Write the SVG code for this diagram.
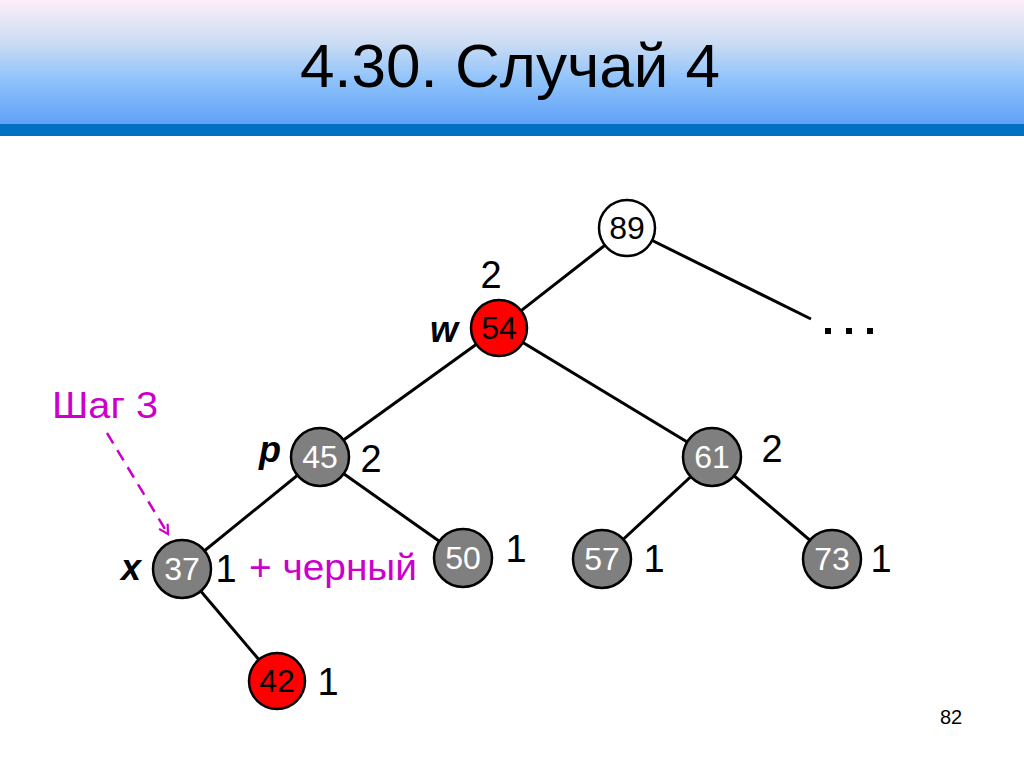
<svg xmlns="http://www.w3.org/2000/svg" width="1024" height="768" viewBox="0 0 1024 768">
<defs>
<linearGradient id="hdr" x1="0" y1="0" x2="0" y2="1">
<stop offset="0" stop-color="#fdeef9"/>
<stop offset="0.35" stop-color="#cadcf3"/>
<stop offset="0.65" stop-color="#8ec2fb"/>
<stop offset="1" stop-color="#60a1f7"/>
</linearGradient>
<marker id="arr" viewBox="0 0 12 12" refX="10" refY="6" markerWidth="12" markerHeight="12" markerUnits="userSpaceOnUse" orient="auto">
<path d="M1,1 L10,6 L1,11" fill="none" stroke="#cc00cc" stroke-width="2.2"/>
</marker>
<style>
.edge{stroke:#000;stroke-width:3;fill:none}
.nd{stroke:#000;stroke-width:2.5}
.gray{fill:#7f7f7f}
.red{fill:#ff0000}
.white{fill:#ffffff}
.num{font-family:"Liberation Sans",Arial,sans-serif;font-size:32px;text-anchor:middle}
.wt{fill:#fff}
.bk{fill:#000}
.lbl{font-family:"Liberation Sans",Arial,sans-serif;font-size:38px;fill:#000}
.var{font-family:"Liberation Sans",Arial,sans-serif;font-size:36px;font-weight:bold;font-style:italic;fill:#000}
.mag{font-family:"Liberation Sans",Arial,sans-serif;font-size:36px;fill:#cc00cc}
</style>
</defs>
<rect x="0" y="0" width="1024" height="768" fill="#ffffff"/>
<rect x="0" y="0" width="1024" height="124" fill="url(#hdr)"/>
<rect x="0" y="124" width="1024" height="12" fill="#0070c0"/>
<text x="510" y="87" font-family="Liberation Sans, Arial, sans-serif" font-size="62" text-anchor="middle" fill="#000">4.30. Случай 4</text>

<g id="connectors">
<line class="edge" x1="627" y1="228" x2="499" y2="328"/>
<line class="edge" x1="627" y1="228" x2="811" y2="319"/>
<line class="edge" x1="499" y1="328" x2="320" y2="457"/>
<line class="edge" x1="499" y1="328" x2="712" y2="457"/>
<line class="edge" x1="320" y1="457" x2="182" y2="569"/>
<line class="edge" x1="320" y1="457" x2="463" y2="558"/>
<line class="edge" x1="712" y1="457" x2="602" y2="559"/>
<line class="edge" x1="712" y1="457" x2="832" y2="559"/>
<line class="edge" x1="182" y1="569" x2="277" y2="681"/>
<line x1="107" y1="433" x2="168" y2="534" stroke="#cc00cc" stroke-width="2.5" stroke-dasharray="12,8" marker-end="url(#arr)"/>
</g>

<g id="ellipsis" fill="#000">
<rect x="825" y="328" width="6" height="6"/>
<rect x="846" y="328" width="6" height="6"/>
<rect x="867" y="328" width="6" height="6"/>
</g>

<g id="n89"><circle class="nd white" cx="627" cy="228" r="28"/><text class="num bk" x="627" y="239">89</text></g>
<g id="n54"><circle class="nd red" cx="499" cy="328" r="28"/><text class="num bk" x="499" y="339">54</text>
<text class="lbl" x="491" y="288" text-anchor="middle">2</text><text class="var" x="444" y="342" text-anchor="middle">w</text></g>
<g id="n45"><circle class="nd gray" cx="320" cy="457" r="29"/><text class="num wt" x="320" y="468">45</text>
<text class="lbl" x="371" y="472" text-anchor="middle">2</text><text class="var" x="270" y="462" text-anchor="middle">p</text></g>
<g id="n61"><circle class="nd gray" cx="712" cy="457" r="29"/><text class="num wt" x="712" y="468">61</text>
<text class="lbl" x="772" y="462" text-anchor="middle">2</text></g>
<g id="n37"><circle class="nd gray" cx="182" cy="569" r="29"/><text class="num wt" x="182" y="580">37</text>
<text class="lbl" x="226" y="582" text-anchor="middle">1</text><text class="var" x="131" y="580" text-anchor="middle">x</text></g>
<g id="n50"><circle class="nd gray" cx="463" cy="558" r="29"/><text class="num wt" x="463" y="569">50</text>
<text class="lbl" x="516" y="562" text-anchor="middle">1</text></g>
<g id="n57"><circle class="nd gray" cx="602" cy="559" r="29"/><text class="num wt" x="602" y="570">57</text>
<text class="lbl" x="654" y="572" text-anchor="middle">1</text></g>
<g id="n73"><circle class="nd gray" cx="832" cy="559" r="29"/><text class="num wt" x="832" y="570">73</text>
<text class="lbl" x="881" y="572" text-anchor="middle">1</text></g>
<g id="n42"><circle class="nd red" cx="277" cy="681" r="28"/><text class="num bk" x="277" y="692">42</text>
<text class="lbl" x="328" y="695" text-anchor="middle">1</text></g>

<text class="mag" x="52" y="418" textLength="106" lengthAdjust="spacingAndGlyphs">Шаг 3</text>
<text class="mag" x="249" y="580" textLength="168" lengthAdjust="spacingAndGlyphs">+ черный</text>
<text x="951" y="724" font-family="Liberation Sans, Arial, sans-serif" font-size="20" text-anchor="middle" fill="#000">82</text>
</svg>
